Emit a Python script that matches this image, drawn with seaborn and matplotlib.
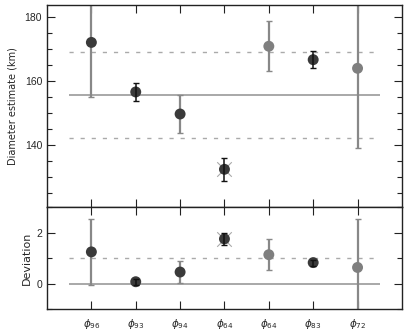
import numpy as np
import pandas as pd
import seaborn as sns
import matplotlib.pyplot as plt
from matplotlib.ticker import MultipleLocator

# Values
labels = [r"$\phi_{96}$", r"$\phi_{93}$", r"$\phi_{94}$", r"$\phi_{64}$",
          r"$\phi_{64}$", r"$\phi_{83}$", r"$\phi_{72}$"]
diameter = [172.1, 156.6, 149.7, 132.4, 170.9, 166.7, 164.0]
diameter_err = [17.2, 2.8, 5.9, 3.6, 7.9, 2.7, 25.0]
deviation = [1.24, 0.07, 0.45, 1.75, 1.13, 0.82, 0.63]
deviation_err = [1.28, 0.12, 0.43, 0.25, 0.60, 0.12, 1.89]
group = ["dark", "dark", "dark", "dark", "light", "dark", "light"]
bar_shade = ["grey", "black", "grey", "black", "grey", "black", "grey"]
excluded = [False, False, False, True, False, False, False]
mean_diameter = 155.6
sigma_diameter = 13.35

df = pd.DataFrame({
    "x": np.arange(1, len(labels) + 1),
    "diameter": diameter,
    "diameter_err": diameter_err,
    "deviation": deviation,
    "deviation_err": deviation_err,
    "group": group,
    "bar": bar_shade,
    "excluded": excluded,
})

sns.set_style("ticks")
plt.rcParams["font.family"] = ["Liberation Sans", "DejaVu Sans"]
plt.rcParams["mathtext.fontset"] = "dejavusans"

palette = {"dark": "#3a3a3a", "light": "#7f7f7f"}
bar_color = {"black": "#111111", "grey": "#888888"}

fig = plt.figure(figsize=(4.07, 3.30), dpi=100)
ax_top = fig.add_axes([0.1155, 0.3727, 0.872, 0.6121])
ax_bot = fig.add_axes([0.1155, 0.0636, 0.872, 0.3091])


def draw_panel(ax, col, err_col, center, dotted):
    ax.hlines(center, 0.5, 7.5, color="#999999", lw=1.2, zorder=1)
    ax.hlines(dotted, 0.5, 7.5, color="#aaaaaa", lw=1.0, ls=(0, (3, 5)), zorder=1)
    for _, row in df.iterrows():
        c = bar_color[row["bar"]]
        black = row["bar"] == "black"
        cont = ax.errorbar(row["x"], row[col], yerr=row[err_col], fmt="none",
                           ecolor=c, elinewidth=1.1 if black else 1.6,
                           capsize=2.5, capthick=1.0, zorder=4 if black else 2)
        for cap in cont[1]:
            cap.set_color("#111111")
    ex = df[df["excluded"]]
    ax.scatter(ex["x"], ex[col], marker="x", s=110, color="#aaaaaa",
               linewidths=0.8, zorder=2.5)
    sns.scatterplot(data=df, x="x", y=col, hue="group", palette=palette,
                    s=62, edgecolor="none", legend=False, ax=ax, zorder=3)


draw_panel(ax_top, "diameter", "diameter_err", mean_diameter,
           [mean_diameter - sigma_diameter, mean_diameter + sigma_diameter])
draw_panel(ax_bot, "deviation", "deviation_err", 0.0, [1.0])

ax_top.set_xlim(0, 8)
ax_top.set_ylim(120.6, 183.8)
ax_top.yaxis.set_major_locator(MultipleLocator(20))
ax_top.yaxis.set_minor_locator(MultipleLocator(5))
ax_top.set_xticks(df["x"])
ax_top.set_xticklabels([])
ax_top.set_xlabel("")
ax_top.set_ylabel("Diameter estimate (km)", fontsize=7, family="DejaVu Sans")

ax_bot.set_xlim(0, 8)
ax_bot.set_ylim(-1, 3)
ax_bot.yaxis.set_major_locator(MultipleLocator(2))
ax_bot.yaxis.set_minor_locator(MultipleLocator(1))
ax_bot.set_xticks(df["x"])
ax_bot.set_xticklabels(labels, fontsize=8)
ax_bot.set_xlabel("")
ax_bot.set_ylabel("Deviation", fontsize=8, family="DejaVu Sans")

for ax in (ax_top, ax_bot):
    for s in ax.spines.values():
        s.set_visible(True)
        s.set_linewidth(1.0)
        s.set_color("#222222")
    ax.tick_params(which="both", direction="in", top=True, right=True,
                   labelsize=7.5, color="#222222")
    ax.tick_params(which="major", length=6, width=0.8)
    ax.tick_params(which="minor", length=3.5, width=0.8)
    ax.tick_params(axis="x", which="major", pad=6)

ax_top.yaxis.set_label_coords(-0.082, 0.5)
ax_bot.yaxis.set_label_coords(-0.042, 0.5)

fig.savefig("out.png", dpi=100)
